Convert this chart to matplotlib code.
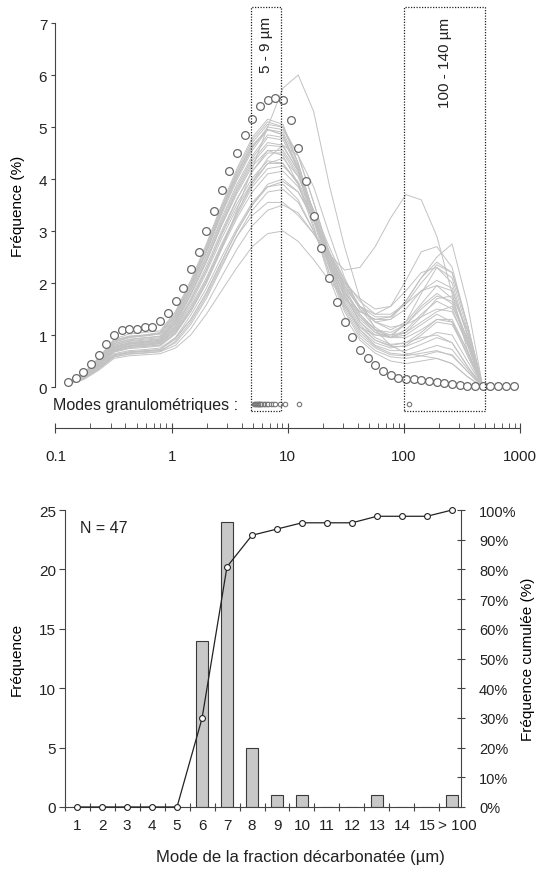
import numpy as np
import matplotlib
matplotlib.use('Agg')
import matplotlib.pyplot as plt
from matplotlib.ticker import FixedLocator, NullFormatter
from matplotlib.transforms import ScaledTranslation

plt.rcParams['font.family'] = ['Liberation Sans', 'DejaVu Sans']
plt.rcParams['text.color'] = '#222222'
plt.rcParams['axes.edgecolor'] = '#444444'
plt.rcParams['xtick.color'] = '#444444'
plt.rcParams['ytick.color'] = '#444444'
plt.rcParams['xtick.labelcolor'] = '#222222'
plt.rcParams['ytick.labelcolor'] = '#222222'

# ---- top panel data: grain size curves (um, %)
x_mean = [0.128, 0.149, 0.174, 0.202, 0.235, 0.274, 0.319, 0.372, 0.433, 0.504,
          0.587, 0.684, 0.796, 0.927, 1.08, 1.26, 1.46, 1.71, 1.99, 2.31,
          2.69, 3.14, 3.65, 4.25, 4.95, 5.77, 6.71, 7.82, 9.10, 10.6,
          12.3, 14.4, 16.7, 19.5, 22.7, 26.4, 30.8, 35.9, 41.8, 48.6,
          56.6, 65.9, 76.8, 89.4, 104, 121, 141, 164, 192, 223,
          260, 302, 352, 410, 478, 556, 648, 754, 878]
y_mean = [0.10, 0.17, 0.28, 0.44, 0.62, 0.82, 1.00, 1.09, 1.11, 1.12,
          1.16, 1.16, 1.26, 1.43, 1.66, 1.91, 2.27, 2.60, 3.00, 3.38,
          3.79, 4.15, 4.50, 4.85, 5.15, 5.40, 5.52, 5.55, 5.52, 5.13,
          4.60, 3.96, 3.29, 2.67, 2.10, 1.64, 1.25, 0.97, 0.72, 0.56,
          0.42, 0.31, 0.23, 0.17, 0.15, 0.15, 0.14, 0.12, 0.10, 0.08,
          0.05, 0.03, 0.02, 0.02, 0.02, 0.02, 0.02, 0.02, 0.02]

x_grey = [0.128, 0.174, 0.235, 0.319, 0.433, 0.587, 0.796, 1.08, 1.46, 1.99,
          2.69, 3.65, 4.95, 6.71, 9.10, 12.3, 16.7, 22.7, 30.8, 41.8,
          56.6, 76.8, 104, 141, 192, 260, 352, 478]
samples = [
    [0.10, 0.25, 0.55, 0.90, 0.98, 1.00, 1.05, 1.45, 2.05, 2.75, 3.50, 4.20, 4.80, 5.15, 5.05, 4.30, 3.30, 2.30, 1.50, 1.00, 0.75, 0.62, 0.60, 0.65, 0.70, 0.60, 0.30, 0.0],
    [0.09, 0.24, 0.52, 0.86, 0.95, 0.98, 1.02, 1.40, 1.98, 2.65, 3.40, 4.10, 4.70, 5.05, 5.00, 4.45, 3.55, 2.55, 1.70, 1.20, 0.90, 0.80, 0.85, 0.95, 1.00, 0.85, 0.40, 0.0],
    [0.10, 0.26, 0.56, 0.92, 1.02, 1.05, 1.08, 1.45, 2.00, 2.70, 3.45, 4.10, 4.65, 4.95, 4.85, 4.15, 3.10, 2.10, 1.35, 0.90, 0.65, 0.50, 0.45, 0.50, 0.55, 0.45, 0.20, 0.0],
    [0.08, 0.21, 0.47, 0.78, 0.86, 0.88, 0.92, 1.25, 1.80, 2.45, 3.15, 3.80, 4.35, 4.70, 4.65, 4.15, 3.35, 2.45, 1.75, 1.30, 1.05, 0.95, 1.10, 1.40, 1.65, 1.50, 0.80, 0.0],
    [0.08, 0.20, 0.45, 0.75, 0.83, 0.85, 0.88, 1.15, 1.65, 2.25, 2.95, 3.60, 4.15, 4.55, 4.55, 4.10, 3.40, 2.60, 1.90, 1.40, 1.10, 0.95, 1.00, 1.20, 1.40, 1.25, 0.60, 0.0],
    [0.09, 0.22, 0.48, 0.80, 0.88, 0.90, 0.93, 1.28, 1.85, 2.50, 3.20, 3.85, 4.40, 4.80, 4.75, 4.20, 3.30, 2.35, 1.60, 1.10, 0.85, 0.75, 0.80, 1.00, 1.25, 1.20, 0.65, 0.0],
    [0.07, 0.19, 0.43, 0.72, 0.80, 0.82, 0.86, 1.10, 1.55, 2.10, 2.75, 3.35, 3.90, 4.30, 4.40, 4.05, 3.40, 2.70, 2.05, 1.55, 1.25, 1.10, 1.25, 1.60, 1.95, 1.85, 1.00, 0.0],
    [0.08, 0.20, 0.46, 0.76, 0.84, 0.86, 0.90, 1.22, 1.76, 2.40, 3.10, 3.72, 4.25, 4.55, 4.45, 3.90, 3.05, 2.20, 1.55, 1.15, 1.00, 1.00, 1.20, 1.55, 1.80, 1.60, 0.85, 0.0],
    [0.06, 0.17, 0.38, 0.64, 0.70, 0.72, 0.75, 0.95, 1.30, 1.80, 2.40, 3.00, 3.50, 3.90, 4.00, 3.75, 3.20, 2.55, 1.95, 1.50, 1.25, 1.30, 1.65, 2.10, 2.40, 2.20, 1.20, 0.0],
    [0.06, 0.16, 0.36, 0.60, 0.66, 0.68, 0.70, 0.85, 1.20, 1.70, 2.30, 2.90, 3.40, 3.75, 3.80, 3.55, 3.00, 2.40, 1.90, 1.55, 1.40, 1.55, 2.05, 2.60, 2.70, 2.30, 1.20, 0.0],
    [0.06, 0.16, 0.35, 0.58, 0.64, 0.66, 0.68, 0.88, 1.25, 1.75, 2.35, 2.90, 3.30, 3.55, 3.55, 3.30, 2.95, 2.55, 2.25, 2.30, 2.70, 3.25, 3.70, 3.60, 2.90, 1.80, 0.70, 0.0],
    [0.06, 0.17, 0.37, 0.62, 0.68, 0.70, 0.72, 0.95, 1.38, 1.90, 2.50, 3.05, 3.55, 3.85, 3.90, 3.60, 3.00, 2.35, 1.80, 1.45, 1.30, 1.35, 1.65, 2.10, 2.50, 2.75, 1.60, 0.0],
    [0.07, 0.18, 0.40, 0.68, 0.76, 0.78, 0.80, 1.05, 1.45, 2.00, 2.65, 3.40, 4.20, 5.00, 5.75, 6.00, 5.30, 3.90, 2.70, 1.70, 1.10, 0.80, 0.65, 0.60, 0.55, 0.45, 0.20, 0.0],
    [0.05, 0.14, 0.32, 0.55, 0.60, 0.62, 0.64, 0.75, 1.00, 1.40, 1.85, 2.30, 2.70, 2.95, 3.00, 2.80, 2.45, 2.05, 1.70, 1.45, 1.30, 1.30, 1.50, 1.85, 2.05, 1.90, 1.00, 0.0],
    [0.08, 0.21, 0.46, 0.77, 0.85, 0.87, 0.90, 1.24, 1.78, 2.42, 3.12, 3.76, 4.30, 4.65, 4.62, 4.15, 3.35, 2.55, 1.85, 1.40, 1.10, 1.00, 1.05, 1.25, 1.45, 1.55, 0.95, 0.0],
    [0.08, 0.22, 0.49, 0.81, 0.89, 0.92, 0.95, 1.30, 1.86, 2.52, 3.25, 3.90, 4.45, 4.85, 4.80, 4.25, 3.35, 2.40, 1.65, 1.15, 0.90, 0.78, 0.78, 0.90, 1.05, 1.00, 0.50, 0.0],
    [0.07, 0.18, 0.40, 0.67, 0.74, 0.76, 0.79, 1.02, 1.45, 2.00, 2.65, 3.25, 3.75, 4.10, 4.15, 3.85, 3.25, 2.55, 1.95, 1.55, 1.35, 1.35, 1.60, 2.00, 2.35, 2.20, 1.20, 0.0],
    [0.09, 0.23, 0.50, 0.83, 0.91, 0.94, 0.97, 1.33, 1.90, 2.58, 3.32, 3.98, 4.55, 4.95, 4.90, 4.30, 3.35, 2.40, 1.60, 1.10, 0.80, 0.70, 0.70, 0.82, 0.95, 0.85, 0.40, 0.0],
    [0.07, 0.19, 0.42, 0.70, 0.78, 0.80, 0.83, 1.08, 1.50, 2.05, 2.70, 3.35, 3.95, 4.40, 4.65, 4.45, 3.85, 2.95, 2.10, 1.50, 1.15, 0.95, 0.95, 1.10, 1.30, 1.25, 0.70, 0.0],
    [0.06, 0.16, 0.36, 0.61, 0.67, 0.69, 0.72, 0.92, 1.30, 1.82, 2.42, 3.00, 3.50, 3.85, 3.95, 3.75, 3.25, 2.60, 2.05, 1.65, 1.40, 1.40, 1.60, 1.85, 1.95, 1.70, 0.90, 0.0],
    [0.08, 0.20, 0.44, 0.74, 0.82, 0.84, 0.87, 1.19, 1.70, 2.32, 3.00, 3.62, 4.15, 4.50, 4.50, 4.05, 3.30, 2.50, 1.85, 1.35, 1.05, 0.95, 1.05, 1.35, 1.70, 1.75, 1.10, 0.0],
    [0.10, 0.25, 0.54, 0.88, 0.97, 1.00, 1.03, 1.40, 2.00, 2.70, 3.45, 4.15, 4.75, 5.10, 5.00, 4.30, 3.20, 2.20, 1.45, 0.95, 0.70, 0.58, 0.55, 0.60, 0.68, 0.62, 0.30, 0.0],
    [0.06, 0.15, 0.34, 0.58, 0.63, 0.65, 0.68, 0.80, 1.12, 1.58, 2.12, 2.65, 3.10, 3.40, 3.50, 3.35, 2.95, 2.45, 2.00, 1.70, 1.50, 1.55, 1.85, 2.20, 2.30, 2.00, 1.00, 0.0],
    [0.07, 0.19, 0.43, 0.72, 0.80, 0.82, 0.85, 1.16, 1.66, 2.26, 2.92, 3.52, 4.02, 4.35, 4.30, 3.90, 3.20, 2.40, 1.75, 1.35, 1.10, 1.05, 1.20, 1.50, 1.75, 1.65, 0.90, 0.0],
    [0.09, 0.23, 0.51, 0.84, 0.92, 0.95, 0.98, 1.35, 1.92, 2.60, 3.35, 4.02, 4.60, 5.00, 4.95, 4.45, 3.55, 2.60, 1.80, 1.25, 0.95, 0.82, 0.85, 1.05, 1.30, 1.30, 0.70, 0.0],
    [0.07, 0.18, 0.41, 0.69, 0.76, 0.78, 0.81, 1.05, 1.50, 2.05, 2.70, 3.30, 3.85, 4.20, 4.25, 3.95, 3.30, 2.60, 2.00, 1.55, 1.25, 1.15, 1.20, 1.35, 1.50, 1.45, 0.85, 0.0],
    [0.07, 0.19, 0.42, 0.71, 0.79, 0.81, 0.84, 1.12, 1.60, 2.20, 2.85, 3.45, 3.95, 4.30, 4.30, 3.90, 3.20, 2.45, 1.75, 1.25, 1.00, 0.95, 1.25, 1.80, 2.30, 2.10, 1.10, 0.0],
    [0.09, 0.24, 0.53, 0.87, 0.96, 0.99, 1.02, 1.38, 1.95, 2.62, 3.38, 4.05, 4.62, 4.95, 4.85, 4.20, 3.25, 2.30, 1.55, 1.05, 0.78, 0.65, 0.62, 0.70, 0.80, 0.72, 0.35, 0.0],
]

modes = [5.1, 5.2, 5.3, 5.4, 5.5, 5.6, 5.7, 5.8, 5.9, 6.0, 6.2, 6.4, 6.6, 6.8,
         7.2, 7.5, 7.8, 8.6, 9.5, 12.5, 110]
mode_row = -0.33
boxes = [(4.8, 8.7), (100, 500)]
box_labels = ['5 - 9 µm', '100 - 140 µm']
box_label_y = [6.6, 6.25]

# ---- bottom panel data
cats = ['1', '2', '3', '4', '5', '6', '7', '8', '9', '10', '11', '12', '13', '14', '15', '> 100']
counts = [0, 0, 0, 0, 0, 14, 24, 5, 1, 1, 0, 0, 1, 0, 0, 1]
cum_pct = [0, 0, 0, 0, 0, 29.8, 80.9, 91.5, 93.6, 95.7, 95.7, 95.7, 97.9, 97.9, 97.9, 100]

fs = 11
fig = plt.figure(figsize=(5.44, 8.70), dpi=100)

# ================= top panel
ax1 = fig.add_axes([0.102, 0.5074, 0.854, 0.4859])
for s in samples:
    ax1.plot(x_grey, s, color='#c2c2c2', lw=0.7, zorder=1)
ax1.plot(x_mean, y_mean, 'o', ms=5.6, mfc='white', mec='#6a6a6a', mew=0.9, zorder=3)
ax1.plot(modes, [mode_row] * len(modes), 'o', ms=3.2, mfc='white', mec='#777777', mew=0.8, zorder=3)
ax1.text(-0.005, mode_row, 'Modes granulométriques :', transform=ax1.get_yaxis_transform(),
         ha='left', va='center', fontsize=11.5)

for (b0, b1), lab, ly in zip(boxes, box_labels, box_label_y):
    ax1.plot([b0, b1, b1, b0, b0], [-0.47, -0.47, 7.3, 7.3, -0.47], color='#222222',
             lw=0.9, ls=(0, (1, 1.2)), zorder=4)
    ax1.text(np.sqrt(b0 * b1), ly, lab, rotation=90, ha='center', va='center', fontsize=11)

ax1.set_xscale('log')
ax1.set_xlim(0.1, 1000)
ax1.set_ylim(-0.78, 7.35)
ax1.spines['top'].set_visible(False)
ax1.spines['right'].set_visible(False)
ax1.spines['left'].set_bounds(0, 7)
ax1.set_yticks(range(0, 8))
ax1.tick_params(axis='y', direction='out', length=3, pad=3, labelsize=fs)
ax1.xaxis.set_major_locator(FixedLocator([0.1, 1, 10, 100, 1000]))
ax1.set_xticklabels(['0.1', '1', '10', '100', '1000'])
ax1.xaxis.set_minor_locator(FixedLocator([m * 10.0 ** e for e in range(-1, 3) for m in range(2, 10)]))
ax1.xaxis.set_minor_formatter(NullFormatter())
ax1.tick_params(axis='x', which='major', direction='inout', length=7, pad=12, labelsize=fs)
ax1.tick_params(axis='x', which='minor', direction='in', length=3.5)
ax1.set_ylabel('Fréquence (%)', fontsize=fs)
ax1.yaxis.set_label_coords(-0.066, 0.526)

# ================= bottom panel
ax2 = fig.add_axes([0.1186, 0.0713, 0.7288, 0.3413])
pos = np.arange(1, len(cats) + 1)
ax2.bar(pos, counts, width=0.48, color='#c8c8c8', edgecolor='#3a3a3a', lw=0.8, zorder=2)
ax2.set_xlim(0.5, 16.36)
ax2.set_ylim(0, 25)
ax2.set_yticks([0, 5, 10, 15, 20, 25])
ax2.spines['top'].set_visible(False)
ax2.spines['right'].set_visible(False)
ax2.set_xticks(np.arange(0.5, 16, 1.0))
ax2.set_xticklabels([])
ax2.set_xticks(pos, minor=True)
ax2.set_xticklabels(cats, minor=True)
ax2.tick_params(axis='x', which='major', direction='inout', length=6)
ax2.tick_params(axis='x', which='minor', length=0, pad=8, labelsize=fs)
ax2.tick_params(axis='y', direction='out', length=4, pad=2, labelsize=fs)
last = ax2.xaxis.get_minorticklabels()[-1]
last.set_transform(last.get_transform() + ScaledTranslation(5 / 100, 0, fig.dpi_scale_trans))
ax2.set_ylabel('Fréquence', fontsize=fs)
ax2.yaxis.set_label_coords(-0.104, 0.5)
ax2.text(1.12, 23.5, 'N = 47', ha='left', va='center', fontsize=11.5)

ax3 = ax2.twinx()
ax3.plot(pos, cum_pct, '-o', color='#222222', lw=0.9, ms=4.2, mfc='white', mec='#222222',
         mew=0.8, clip_on=False, zorder=5)
ax3.set_ylim(0, 100)
ax3.set_yticks(range(0, 101, 10))
ax3.set_yticklabels([f'{v}%' for v in range(0, 101, 10)])
for sp in ['top', 'left', 'bottom']:
    ax3.spines[sp].set_visible(False)
ax3.tick_params(axis='y', direction='inout', length=6, pad=10, labelsize=10.5)
ax3.set_ylabel('Fréquence cumulée (%)', fontsize=fs)
ax3.yaxis.set_label_coords(1.152, 0.5)

fig.text(300 / 544, 1 - 858 / 870, 'Mode de la fraction décarbonatée (µm)', ha='center',
         va='center', fontsize=12)

fig.savefig('out.png', dpi=100)
